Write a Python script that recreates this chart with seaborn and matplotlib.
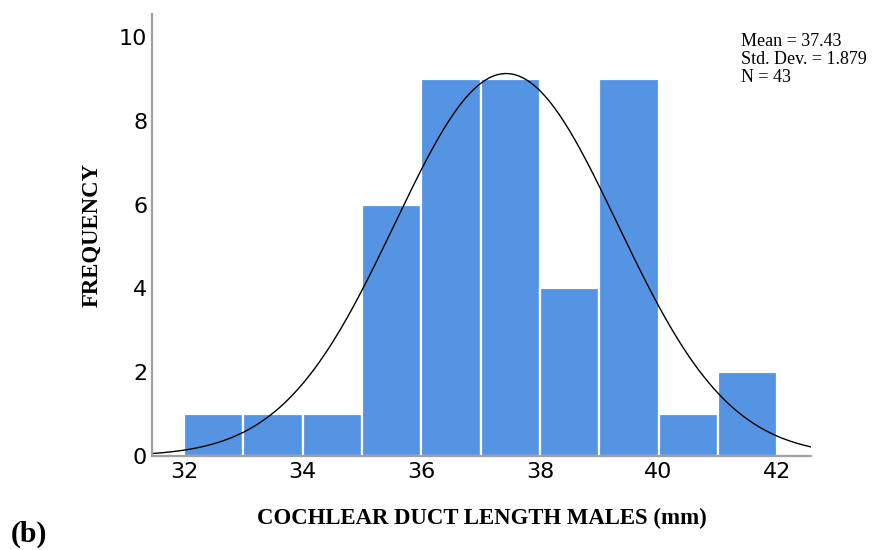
import numpy as np
import pandas as pd
import matplotlib
matplotlib.use("Agg")
import matplotlib.pyplot as plt
import seaborn as sns

# Histogram bins (mm) and frequencies
bin_edges = [32, 33, 34, 35, 36, 37, 38, 39, 40, 41, 42]
frequencies = [1, 1, 1, 6, 9, 9, 4, 9, 1, 2]

# Summary statistics shown in the corner
mean_len = 37.43
std_len = 1.879
n_obs = 43

x_ticks = [32, 34, 36, 38, 40, 42]
y_ticks = [0, 2, 4, 6, 8, 10]

sns.set_theme(style="white")
plt.rcParams["font.family"] = ["DejaVu Sans"]
plt.rcParams["text.color"] = "black"
plt.rcParams["axes.labelcolor"] = "black"

bin_centers = [(a + b) / 2 for a, b in zip(bin_edges[:-1], bin_edges[1:])]
df = pd.DataFrame({"length": bin_centers, "count": frequencies})

fig = plt.figure(figsize=(8.75, 5.5), dpi=100)
ax = fig.add_axes([0.1737, 0.1709, 0.7532, 0.8036])

sns.histplot(data=df, x="length", weights="count", bins=bin_edges,
             color="#5594E3", alpha=1.0, edgecolor="white", linewidth=1.6, ax=ax)

# Fitted normal curve scaled to counts
xs = np.linspace(31.46, 42.57, 400)
bw = bin_edges[1] - bin_edges[0]
ys = n_obs * bw / (std_len * np.sqrt(2 * np.pi)) * np.exp(-0.5 * ((xs - mean_len) / std_len) ** 2)
sns.lineplot(x=xs, y=ys, color="black", linewidth=1.0, ax=ax)

ax.set_xlim(31.46, 42.57)
ax.set_ylim(0, 10.55)
ax.set_xticks(x_ticks)
ax.set_yticks(y_ticks)
ax.tick_params(axis="both", labelsize=16, length=0, colors="black")
ax.tick_params(axis="y", pad=3.5)
ax.tick_params(axis="x", pad=4.5)

for side in ["top", "right"]:
    ax.spines[side].set_visible(False)
for side in ["left", "bottom"]:
    ax.spines[side].set_color("#a0a0a0")
    ax.spines[side].set_linewidth(1.6)

serif = ["Liberation Serif", "DejaVu Serif"]
ax.set_xlabel("COCHLEAR DUCT LENGTH MALES (mm)", fontsize=16.4, fontweight="bold",
              family=serif, labelpad=18.5, color="black")
ax.set_ylabel("FREQUENCY", fontsize=16.4, fontweight="bold", family=serif,
              labelpad=12, color="black")

fig.text(741 / 875, 1 - 33 / 550,
         f"Mean = {mean_len:.2f}\nStd. Dev. = {std_len:.3f}\nN = {n_obs}",
         fontsize=13, family=serif, va="top", ha="left", linespacing=1.08,
         color="black")

fig.text(11 / 875, 1 - 534 / 550, "(b)", fontsize=21.5, fontweight="bold",
         family=serif, va="center", ha="left", color="black")

fig.savefig("out.png", dpi=100)
